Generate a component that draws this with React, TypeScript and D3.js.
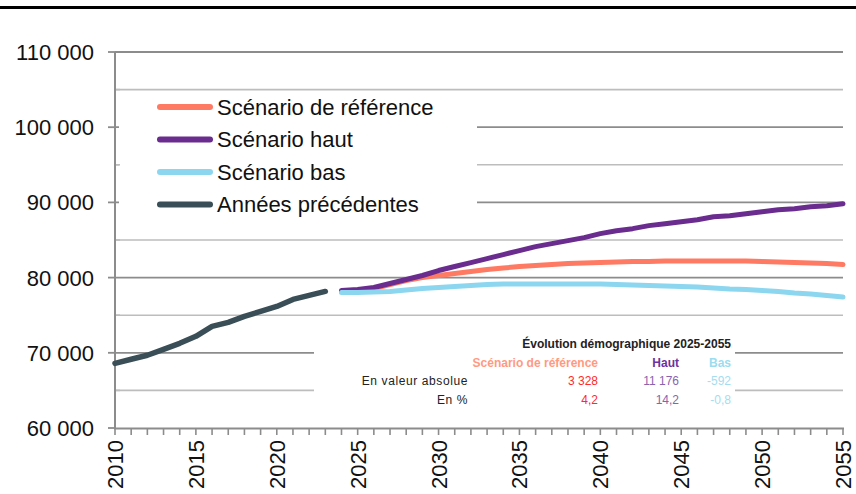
import React from "react";
import * as d3 from "d3";

const histYears = [2010, 2011, 2012, 2013, 2014, 2015, 2016, 2017, 2018, 2019, 2020, 2021, 2022, 2023];
const histValues = [68600, 69140, 69670, 70460, 71260, 72190, 73510, 74050, 74840, 75500, 76170, 77100, 77630, 78160];

const projYears = [2024, 2025, 2026, 2027, 2028, 2029, 2030, 2031, 2032, 2033, 2034, 2035, 2036, 2037, 2038, 2039, 2040, 2041, 2042, 2043, 2044, 2045, 2046, 2047, 2048, 2049, 2050, 2051, 2052, 2053, 2054, 2055];
const refValues = [78150, 78290, 78550, 79080, 79610, 80010, 80280, 80540, 80810, 81070, 81270, 81470, 81600, 81740, 81870, 81930, 82000, 82070, 82130, 82130, 82200, 82200, 82200, 82200, 82200, 82200, 82130, 82070, 82000, 81930, 81870, 81740];
const hautValues = [78290, 78420, 78690, 79220, 79750, 80280, 80940, 81470, 82000, 82530, 83060, 83590, 84120, 84520, 84920, 85320, 85850, 86240, 86510, 86910, 87170, 87440, 87700, 88100, 88230, 88500, 88760, 89030, 89160, 89430, 89560, 89820];
const basValues = [78020, 78020, 78090, 78150, 78350, 78550, 78690, 78820, 78950, 79090, 79150, 79150, 79150, 79150, 79150, 79150, 79150, 79090, 79020, 78950, 78880, 78820, 78750, 78620, 78490, 78420, 78290, 78150, 77960, 77820, 77620, 77430];

const yTicks = [60000, 70000, 80000, 90000, 100000, 110000];
const yMinor = [65000, 75000, 85000, 95000, 105000];
const xLabelYears = [2010, 2015, 2020, 2025, 2030, 2035, 2040, 2045, 2050, 2055];

const legendLabels = ["Scénario de référence", "Scénario haut", "Scénario bas", "Années précédentes"];
const seriesColors = ["#FF7A62", "#6A2C8E", "#8DD6EF", "#3A4E57"];

const tableTitle = "Évolution démographique 2025-2055";
const tableHeaders = ["Scénario de référence", "Haut", "Bas"];
const tableRowLabels = ["En valeur absolue", "En %"];
const tableRows = [["3 328", "11 176", "-592"], ["4,2", "14,2", "-0,8"]];
const headerColors = ["#FF9A82", "#7030A0", "#9ADCF0"];
const valueColors = ["#FF2A2A", "#8A63AE", "#A4DDF0"];

const fmt = (v: number) => d3.format(",")(v).replace(/,/g, " ");

export default function App() {
  const W = 856, H = 494;
  const x = d3.scaleLinear().domain([2010, 2055]).range([115, 843]);
  const y = d3.scaleLinear().domain([60000, 110000]).range([428, 52]);
  const line = d3.line<[number, number]>().x(d => x(d[0])).y(d => y(d[1]));
  const allYears = d3.range(2010, 2056);
  const font = "'Liberation Sans', Arial, sans-serif";

  const proj = [refValues, hautValues, basValues];
  const tableCols = [598, 679, 731];

  return (
    <div style={{ position: "absolute", left: 0, top: 0 }}>
      <svg width={W} height={H} style={{ display: "block", background: "#fff" }}>
        <line x1={0} x2={W} y1={7.5} y2={7.5} stroke="#000" strokeWidth={3} />
        {yMinor.map(v => (
          <line key={"mi" + v} x1={115} x2={843} y1={y(v)} y2={y(v)} stroke="#BDBDBD" strokeWidth={1.6} />
        ))}
        {yTicks.filter(v => v > 60000).map(v => (
          <line key={"ma" + v} x1={115} x2={843} y1={y(v)} y2={y(v)} stroke="#8C8C8C" strokeWidth={1.8} />
        ))}
        <rect x={119} y={91} width={358} height={141} fill="#fff" />
        <rect x={314} y={320} width={421} height={92} fill="#fff" />
        {yMinor.map(v => (
          <line key={"mt" + v} x1={115} x2={120} y1={y(v)} y2={y(v)} stroke="#BDBDBD" strokeWidth={1.6} />
        ))}
        <line x1={115} x2={115} y1={52} y2={429} stroke="#8C8C8C" strokeWidth={2} />
        <line x1={114} x2={844} y1={428.5} y2={428.5} stroke="#8C8C8C" strokeWidth={2} />
        {yTicks.map(v => (
          <line key={"yt" + v} x1={108} x2={115} y1={y(v)} y2={y(v)} stroke="#8C8C8C" strokeWidth={1.8} />
        ))}
        {allYears.map(yr => (
          <line key={"xt" + yr} x1={x(yr)} x2={x(yr)} y1={428} y2={435} stroke="#8C8C8C" strokeWidth={1.6} />
        ))}
        {yTicks.map(v => (
          <text key={"yl" + v} x={94} y={y(v)} dy="0.36em" textAnchor="end" fontFamily={font} fontSize={22} fill="#111">
            {fmt(v)}
          </text>
        ))}
        {xLabelYears.map(yr => (
          <text key={"xl" + yr} transform={`translate(${x(yr) + 8},440) rotate(-90)`} textAnchor="end" fontFamily={font} fontSize={22} fill="#111">
            {yr}
          </text>
        ))}
        {proj.map((vals, i) => (
          <path key={"s" + i} d={line(projYears.map((yr, j) => [yr, vals[j]]) as [number, number][]) || ""} fill="none" stroke={seriesColors[i]} strokeWidth={5} strokeLinejoin="round" strokeLinecap="round" />
        ))}
        <path d={line(histYears.map((yr, j) => [yr, histValues[j]]) as [number, number][]) || ""} fill="none" stroke={seriesColors[3]} strokeWidth={5.5} strokeLinejoin="round" strokeLinecap="round" />
        {legendLabels.map((lab, i) => {
          const ly = 107 + i * 32.5;
          return (
            <g key={"lg" + i}>
              <line x1={160} x2={210} y1={ly} y2={ly} stroke={seriesColors[i]} strokeWidth={6} strokeLinecap="round" />
              <text x={217} y={ly} dy="0.36em" fontFamily={font} fontSize={22} fill="#111">{lab}</text>
            </g>
          );
        })}
        <text x={731} y={344} dy="0.35em" textAnchor="end" fontFamily={font} fontSize={12} fontWeight="bold" fill="#222">{tableTitle}</text>
        {tableHeaders.map((h, i) => (
          <text key={"th" + i} x={tableCols[i]} y={363} dy="0.35em" textAnchor="end" fontFamily={font} fontSize={12} fontWeight="bold" fill={headerColors[i]}>{h}</text>
        ))}
        {tableRowLabels.map((r, ri) => (
          <g key={"tr" + ri}>
            <text x={468} y={381 + ri * 18.5} dy="0.35em" textAnchor="end" fontFamily={font} fontSize={12} letterSpacing={0.6} fill="#222">{r}</text>
            {tableRows[ri].map((v, ci) => (
              <text key={"tv" + ci} x={tableCols[ci]} y={381 + ri * 18.5} dy="0.35em" textAnchor="end" fontFamily={font} fontSize={12} fill={valueColors[ci]}>{v}</text>
            ))}
          </g>
        ))}
      </svg>
    </div>
  );
}
